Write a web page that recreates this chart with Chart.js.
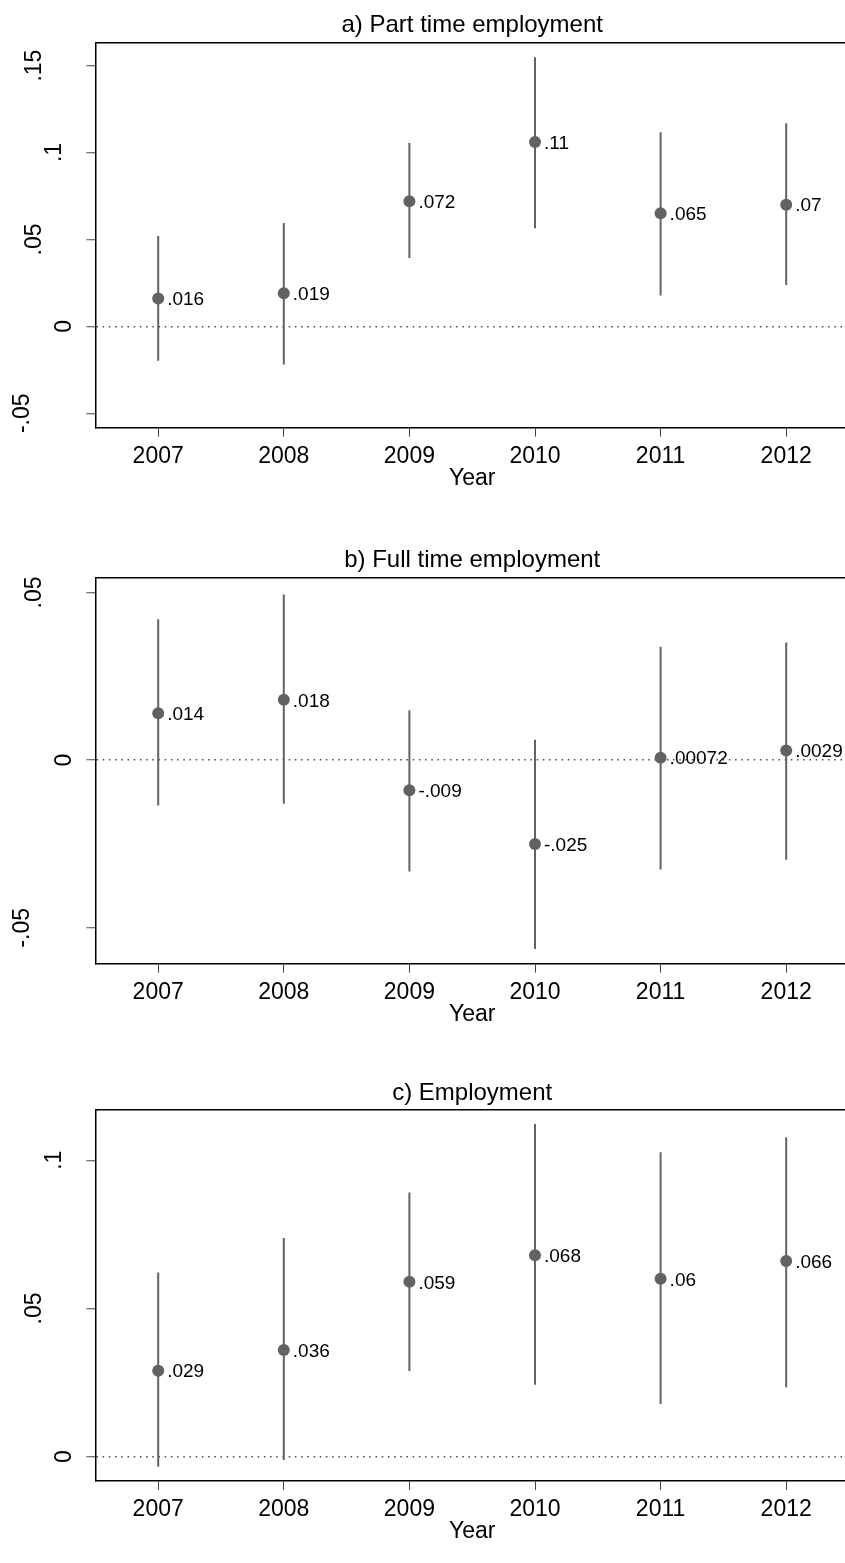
<!DOCTYPE html>
<html>
<head>
<meta charset="utf-8">
<script src="https://cdn.jsdelivr.net/npm/chart.js@4.4.1/dist/chart.umd.min.js"></script>
<style>
  html, body { margin: 0; padding: 0; background: #fff; overflow: hidden; width: 845px; height: 1563px; }
  canvas { position: absolute; left: 0; display: block; }
</style>
</head>
<body>
<canvas id="panelA"></canvas>
<canvas id="panelB"></canvas>
<canvas id="panelC"></canvas>
<script>
const years = [2007, 2008, 2009, 2010, 2011, 2012];

// a) part time employment: point estimate and 95% CI
const partEst = [0.016, 0.019, 0.072, 0.106, 0.065, 0.070];
const partLo = [-0.0198, -0.0219, 0.0393, 0.0564, 0.0178, 0.0238];
const partHi = [0.0520, 0.0594, 0.1055, 0.1548, 0.1116, 0.1168];
const partTicks = [-0.05, 0, 0.05, 0.1, 0.15];
const partRange = [-0.0583, 0.1634];

// b) full time employment
const fullEst = [0.014, 0.018, -0.009, -0.025, 0.00072, 0.0029];
const fullLo = [-0.0135, -0.0130, -0.0332, -0.0563, -0.0326, -0.0297];
const fullHi = [0.0420, 0.0494, 0.0149, 0.0061, 0.0338, 0.0351];
const fullTicks = [-0.05, 0, 0.05];
const fullRange = [-0.0607, 0.0544];

// c) employment
const empEst = [0.029, 0.036, 0.059, 0.068, 0.060, 0.066];
const empLo = [-0.0034, -0.0011, 0.0289, 0.0243, 0.0178, 0.0234];
const empHi = [0.0621, 0.0738, 0.0891, 0.1122, 0.1027, 0.1078];
const empTicks = [0, 0.05, 0.1];
const empRange = [-0.0082, 0.1172];

const FONT = '"Liberation Sans", Arial, Helvetica, sans-serif';
const GREY = '#626262';

// stata %9.2g look: two significant digits, no leading zero
function stataFmt(v) {
  if (v === 0) return '0';
  const s = String(parseFloat(v.toPrecision(2)));
  return s.replace(/^(-?)0\./, '$1.');
}

// value labels next to the markers + rotated y tick labels
const stataText = {
  id: 'stataText',
  afterDatasetsDraw(chart) {
    const ctx = chart.ctx;
    const meta = chart.getDatasetMeta(1);
    const pts = chart.data.datasets[1].data;
    ctx.save();
    ctx.fillStyle = '#000';
    ctx.font = '19px ' + FONT;
    ctx.textAlign = 'left';
    ctx.textBaseline = 'middle';
    meta.data.forEach((el, i) => {
      ctx.fillText(stataFmt(pts[i].y), el.x + 9, el.y + 1.5);
    });

    // longer labels end up further from the axis
    const ys = chart.scales.y;
    ctx.font = '23px ' + FONT;
    ctx.textAlign = 'center';
    ys.ticks.forEach(t => {
      const txt = stataFmt(t.value);
      const w = ctx.measureText(txt).width;
      ctx.save();
      ctx.translate(84.3 - 1.55 * w, ys.getPixelForValue(t.value));
      ctx.rotate(-Math.PI / 2);
      ctx.fillText(txt, 0, 0);
      ctx.restore();
    });
    ctx.restore();
  }
};

function buildPanel(id, spec) {
  const canvas = document.getElementById(id);
  canvas.width = 850;
  canvas.height = spec.height;
  canvas.style.top = spec.top + 'px';

  // CI whiskers as one broken line: low, high, gap
  const whiskers = [];
  years.forEach((yr, i) => {
    whiskers.push({x: yr, y: spec.lo[i]}, {x: yr, y: spec.hi[i]}, {x: yr, y: null});
  });

  new Chart(canvas, {
    type: 'scatter',
    data: {
      datasets: [
        {
          type: 'line', data: whiskers, xAxisID: 'x', yAxisID: 'y',
          borderColor: GREY, borderWidth: 2, pointRadius: 0, spanGaps: false, fill: false
        },
        {
          data: years.map((yr, i) => ({x: yr, y: spec.est[i]})), xAxisID: 'x', yAxisID: 'y',
          pointRadius: 6, pointBackgroundColor: GREY, pointBorderWidth: 0
        }
      ]
    },
    options: {
      responsive: false,
      animation: false,
      devicePixelRatio: 1,
      layout: { autoPadding: false, padding: { left: 0, right: 1, top: 0, bottom: 0 } },
      plugins: { legend: { display: false }, tooltip: { enabled: false } },
      scales: {
        x: {
          type: 'linear', position: 'bottom', min: 2006.5, max: 2012.5,
          afterBuildTicks: s => { s.ticks = years.map(v => ({value: v})); },
          afterFit: s => { s.height = spec.height - spec.plotBottom; },
          grid: { drawOnChartArea: false, drawTicks: true, tickLength: 9, tickColor: '#444', tickWidth: 1 },
          border: { color: '#000', width: 1.5 },
          ticks: {
            font: { family: FONT, size: 23 }, color: '#000', padding: 6,
            maxRotation: 0, autoSkip: false, callback: v => String(v)
          },
          title: {
            display: true, text: 'Year', color: '#000',
            font: { family: FONT, size: 23 },
            padding: { top: 0, bottom: spec.height - spec.plotBottom - 51 - 13.8 }
          }
        },
        top: {
          type: 'linear', position: 'top', min: 2006.5, max: 2012.5,
          afterFit: s => { s.height = spec.plotTop; },
          grid: { display: false },
          ticks: { display: false },
          border: { color: '#000', width: 1.5 },
          title: {
            display: true, text: spec.title, color: '#000',
            font: { family: FONT, size: 24 },
            padding: { top: 25.3 - 14.4, bottom: 0 }
          }
        },
        y: {
          type: 'linear', position: 'left', min: spec.range[0], max: spec.range[1],
          afterBuildTicks: s => { s.ticks = spec.ticks.map(v => ({value: v})); },
          afterFit: s => { s.width = 95.4; },
          grid: {
            // only the zero line is drawn, dotted
            color: c => (c.tick && c.tick.value === 0 ? '#4a4a4a' : 'transparent'),
            lineWidth: 1.5, drawTicks: true, tickLength: 9, tickColor: '#444', tickWidth: 1
          },
          border: { color: '#000', width: 1.5, dash: [1.5, 4.7] },
          ticks: { display: false, callback: v => stataFmt(v) }
        }
      }
    },
    plugins: [stataText]
  });
}

buildPanel('panelA', {
  title: 'a) Part time employment', est: partEst, lo: partLo, hi: partHi,
  ticks: partTicks, range: partRange,
  top: 0, height: 535, plotTop: 42.3, plotBottom: 427.7
});
buildPanel('panelB', {
  title: 'b) Full time employment', est: fullEst, lo: fullLo, hi: fullHi,
  ticks: fullTicks, range: fullRange,
  top: 535, height: 533, plotTop: 42.7, plotBottom: 428.7
});
buildPanel('panelC', {
  title: 'c) Employment', est: empEst, lo: empLo, hi: empHi,
  ticks: empTicks, range: empRange,
  top: 1068, height: 495, plotTop: 41.3, plotBottom: 413
});
</script>
</body>
</html>
